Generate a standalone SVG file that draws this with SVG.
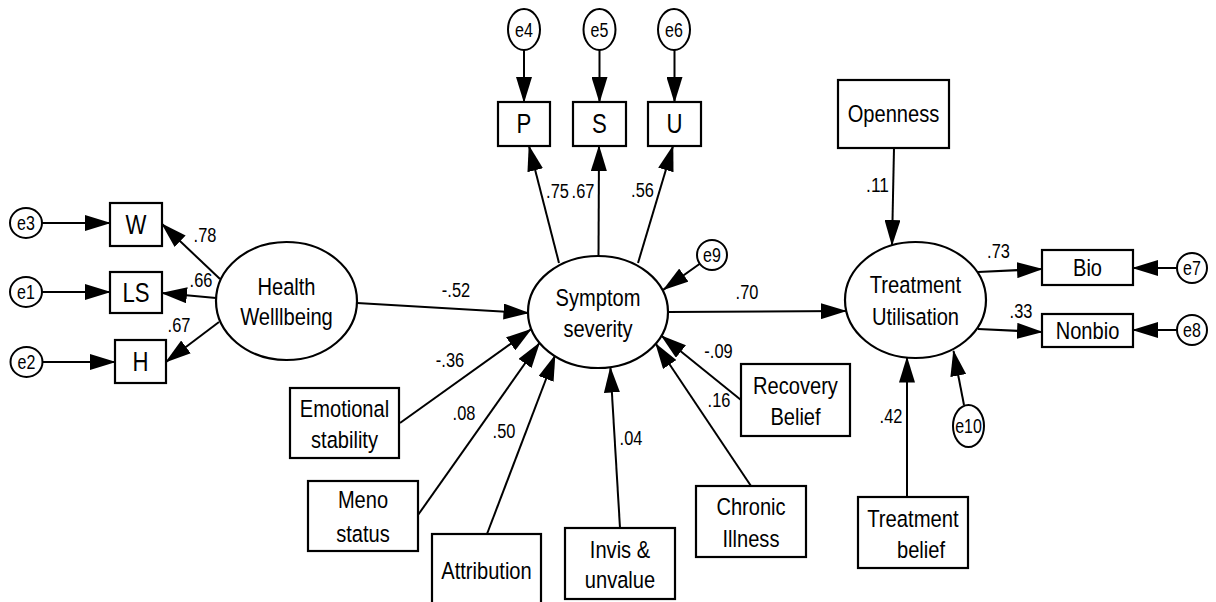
<svg xmlns="http://www.w3.org/2000/svg" width="1216" height="602" viewBox="0 0 1216 602">
  <defs>
    <marker id="ah" viewBox="0 0 26 16" refX="25" refY="8" markerWidth="26" markerHeight="16" markerUnits="userSpaceOnUse" orient="auto">
      <path d="M0,0 L26,8 L0,16 z" fill="#000"/>
    </marker>
  </defs>
  <style>
    text { font-family: "Liberation Sans", Arial, sans-serif; fill: #000; text-anchor: middle; }
    .box { fill: #fff; stroke: #000; stroke-width: 2.2; }
    .lat { fill: #fff; stroke: #000; stroke-width: 2.2; }
    .err { fill: #fff; stroke: #000; stroke-width: 2; }
    .lbl { font-size: 24.5px; }
    .big { font-size: 27px; }
    .el { font-size: 19.5px; }
    .w { font-size: 20px; }
    .edge { fill: none; stroke: #000; stroke-width: 2; marker-end: url(#ah); }
  </style>
  <rect width="1216" height="602" fill="#fff"/>

  <!-- paths; labels are condensed with textLength to a narrow face -->
  <g id="connectors">
    <!-- error terms to indicators -->
    <line class="edge" x1="42" y1="223" x2="110" y2="223"/>
    <line class="edge" x1="42" y1="292" x2="110" y2="292"/>
    <line class="edge" x1="43" y1="362" x2="115" y2="362"/>
    <line class="edge" x1="524" y1="50" x2="524" y2="102"/>
    <line class="edge" x1="599.5" y1="50" x2="599.5" y2="102"/>
    <line class="edge" x1="674.5" y1="50" x2="674.5" y2="102"/>
    <line class="edge" x1="1177" y1="268" x2="1133" y2="268"/>
    <line class="edge" x1="1177" y1="330" x2="1133" y2="330"/>
    <line class="edge" x1="699.8" y1="263.7" x2="663.5" y2="289.6"/>
    <line class="edge" x1="964" y1="405" x2="953.5" y2="351"/>
    <!-- Health Wellbeing loadings -->
    <line class="edge" x1="220" y1="279" x2="162" y2="224"/>
    <line class="edge" x1="216" y1="298" x2="162" y2="293"/>
    <line class="edge" x1="219" y1="322" x2="166" y2="362"/>
    <!-- Symptom severity loadings -->
    <line class="edge" x1="559" y1="263" x2="529" y2="146"/>
    <line class="edge" x1="598.5" y1="256" x2="599" y2="146"/>
    <line class="edge" x1="638" y1="263" x2="673" y2="146"/>
    <!-- structural paths into Symptom severity -->
    <line class="edge" x1="357" y1="303" x2="528.5" y2="313"/>
    <line class="edge" x1="400" y1="423" x2="531" y2="329.3"/>
    <line class="edge" x1="418" y1="515" x2="539.4" y2="343"/>
    <line class="edge" x1="487" y1="534" x2="555" y2="355.5"/>
    <line class="edge" x1="620" y1="528" x2="610.4" y2="367.5"/>
    <line class="edge" x1="751" y1="486" x2="655.8" y2="343.8"/>
    <line class="edge" x1="741" y1="400" x2="661.5" y2="335.8"/>
    <!-- paths into and out of Treatment Utilisation -->
    <line class="edge" x1="668" y1="312" x2="846" y2="311"/>
    <line class="edge" x1="894" y1="148" x2="892" y2="245"/>
    <line class="edge" x1="907" y1="497" x2="907" y2="357.5"/>
    <line class="edge" x1="978" y1="272" x2="1042" y2="269"/>
    <line class="edge" x1="978" y1="329" x2="1042" y2="332"/>
  </g>

  <!-- coefficients -->
  <g id="coefficients" class="w" lengthAdjust="spacingAndGlyphs">
    <text x="205" y="241.5" textLength="22.8" lengthAdjust="spacingAndGlyphs">.78</text>
    <text x="201" y="287" textLength="22.8" lengthAdjust="spacingAndGlyphs">.66</text>
    <text x="179" y="332" textLength="22.8" lengthAdjust="spacingAndGlyphs">.67</text>
    <text x="456" y="296.5" textLength="28.3" lengthAdjust="spacingAndGlyphs">-.52</text>
    <text x="557.5" y="198" textLength="22.8" lengthAdjust="spacingAndGlyphs">.75</text>
    <text x="583" y="198" textLength="22.8" lengthAdjust="spacingAndGlyphs">.67</text>
    <text x="642.5" y="197" textLength="22.8" lengthAdjust="spacingAndGlyphs">.56</text>
    <text x="747" y="299" textLength="22.8" lengthAdjust="spacingAndGlyphs">.70</text>
    <text x="450" y="366.5" textLength="28.3" lengthAdjust="spacingAndGlyphs">-.36</text>
    <text x="464" y="420" textLength="22.8" lengthAdjust="spacingAndGlyphs">.08</text>
    <text x="504" y="438" textLength="22.8" lengthAdjust="spacingAndGlyphs">.50</text>
    <text x="631" y="445" textLength="22.8" lengthAdjust="spacingAndGlyphs">.04</text>
    <text x="719" y="406.5" textLength="22.8" lengthAdjust="spacingAndGlyphs">.16</text>
    <text x="718.5" y="358" textLength="28.3" lengthAdjust="spacingAndGlyphs">-.09</text>
    <text x="877.5" y="192" textLength="22.8" lengthAdjust="spacingAndGlyphs">.11</text>
    <text x="998.5" y="258" textLength="22.8" lengthAdjust="spacingAndGlyphs">.73</text>
    <text x="1021" y="318" textLength="22.8" lengthAdjust="spacingAndGlyphs">.33</text>
    <text x="891" y="423" textLength="22.8" lengthAdjust="spacingAndGlyphs">.42</text>
  </g>

  <!-- error terms -->
  <g id="e3"><ellipse class="err" cx="26" cy="223" rx="16" ry="15"/><text class="el" x="26" y="230" textLength="17.8" lengthAdjust="spacingAndGlyphs">e3</text></g>
  <g id="e1"><ellipse class="err" cx="26" cy="292" rx="16" ry="15"/><text class="el" x="26" y="299" textLength="17.8" lengthAdjust="spacingAndGlyphs">e1</text></g>
  <g id="e2"><ellipse class="err" cx="26.5" cy="362" rx="16" ry="15"/><text class="el" x="26.5" y="369" textLength="17.8" lengthAdjust="spacingAndGlyphs">e2</text></g>
  <g id="e4"><ellipse class="err" cx="524" cy="29.5" rx="16" ry="20.5"/><text class="el" x="524" y="36.5" textLength="17.8" lengthAdjust="spacingAndGlyphs">e4</text></g>
  <g id="e5"><ellipse class="err" cx="599.5" cy="29.5" rx="16" ry="20.5"/><text class="el" x="599.5" y="36.5" textLength="17.8" lengthAdjust="spacingAndGlyphs">e5</text></g>
  <g id="e6"><ellipse class="err" cx="674" cy="29.5" rx="16" ry="20.5"/><text class="el" x="674" y="36.5" textLength="17.8" lengthAdjust="spacingAndGlyphs">e6</text></g>
  <g id="e9"><ellipse class="err" cx="712" cy="255" rx="15" ry="15"/><text class="el" x="712" y="262" textLength="17.8" lengthAdjust="spacingAndGlyphs">e9</text></g>
  <g id="e7"><ellipse class="err" cx="1192" cy="268" rx="15" ry="15"/><text class="el" x="1192" y="275" textLength="17.8" lengthAdjust="spacingAndGlyphs">e7</text></g>
  <g id="e8"><ellipse class="err" cx="1192" cy="330" rx="15" ry="15"/><text class="el" x="1192" y="337" textLength="17.8" lengthAdjust="spacingAndGlyphs">e8</text></g>
  <g id="e10"><ellipse class="err" cx="968.5" cy="426" rx="15.5" ry="21"/><text class="el" x="968.5" y="433" textLength="26.7" lengthAdjust="spacingAndGlyphs">e10</text></g>

  <!-- observed indicators -->
  <g id="W"><rect class="box" x="110" y="203" width="52" height="43"/><text class="big" x="136" y="234" textLength="20.9" lengthAdjust="spacingAndGlyphs">W</text></g>
  <g id="LS"><rect class="box" x="110" y="272" width="52" height="41"/><text class="big" x="136" y="302" textLength="27.1" lengthAdjust="spacingAndGlyphs">LS</text></g>
  <g id="H"><rect class="box" x="115" y="340" width="51" height="43"/><text class="big" x="140.5" y="371" textLength="16" lengthAdjust="spacingAndGlyphs">H</text></g>
  <g id="P"><rect class="box" x="498" y="102" width="52" height="44"/><text class="big" x="524" y="133" textLength="14.8" lengthAdjust="spacingAndGlyphs">P</text></g>
  <g id="S"><rect class="box" x="573" y="102" width="53" height="44"/><text class="big" x="599.5" y="133" textLength="14.8" lengthAdjust="spacingAndGlyphs">S</text></g>
  <g id="U"><rect class="box" x="648" y="102" width="53" height="44"/><text class="big" x="674.5" y="133" textLength="16" lengthAdjust="spacingAndGlyphs">U</text></g>
  <g id="Bio"><rect class="box" x="1042" y="250" width="91" height="35"/><text class="lbl" x="1087.5" y="276" textLength="29" lengthAdjust="spacingAndGlyphs">Bio</text></g>
  <g id="Nonbio"><rect class="box" x="1042" y="314" width="91" height="33"/><text class="lbl" x="1087.5" y="339" textLength="63.6" lengthAdjust="spacingAndGlyphs">Nonbio</text></g>

  <!-- latent constructs -->
  <g id="health-wellbeing"><ellipse class="lat" cx="286.5" cy="301" rx="70.5" ry="59"/><text class="lbl" x="286.5" y="295" textLength="58.1" lengthAdjust="spacingAndGlyphs">Health</text><text class="lbl" x="286.5" y="325" textLength="92.7" lengthAdjust="spacingAndGlyphs">Welllbeing</text></g>
  <g id="symptom-severity"><ellipse class="lat" cx="598" cy="312" rx="70" ry="56"/><text class="lbl" x="598" y="306" textLength="84.8" lengthAdjust="spacingAndGlyphs">Symptom</text><text class="lbl" x="598" y="337" textLength="69.2" lengthAdjust="spacingAndGlyphs">severity</text></g>
  <g id="treatment-utilisation"><ellipse class="lat" cx="915.5" cy="300" rx="70.5" ry="58"/><text class="lbl" x="915.5" y="293" textLength="91.5" lengthAdjust="spacingAndGlyphs">Treatment</text><text class="lbl" x="915.5" y="325" textLength="87.1" lengthAdjust="spacingAndGlyphs">Utilisation</text></g>

  <!-- predictors -->
  <g id="openness"><rect class="box" x="838" y="80" width="111" height="68"/><text class="lbl" x="893.5" y="122" textLength="91.6" lengthAdjust="spacingAndGlyphs">Openness</text></g>
  <g id="emotional-stability"><rect class="box" x="290" y="388" width="109" height="70"/><text class="lbl" x="344.5" y="417" textLength="89.3" lengthAdjust="spacingAndGlyphs">Emotional</text><text class="lbl" x="344.5" y="448" textLength="67" lengthAdjust="spacingAndGlyphs">stability</text></g>
  <g id="meno-status"><rect class="box" x="308" y="481" width="110" height="70"/><text class="lbl" x="363" y="508" textLength="50.2" lengthAdjust="spacingAndGlyphs">Meno</text><text class="lbl" x="363" y="542" textLength="53.6" lengthAdjust="spacingAndGlyphs">status</text></g>
  <g id="attribution"><rect class="box" x="432" y="534" width="109" height="80"/><text class="lbl" x="486.5" y="579" textLength="90.4" lengthAdjust="spacingAndGlyphs">Attribution</text></g>
  <g id="invis-unvalue"><rect class="box" x="565" y="528" width="110" height="71"/><text class="lbl" x="620" y="558" textLength="60.3" lengthAdjust="spacingAndGlyphs">Invis &amp;</text><text class="lbl" x="620" y="588" textLength="70.4" lengthAdjust="spacingAndGlyphs">unvalue</text></g>
  <g id="chronic-illness"><rect class="box" x="696" y="486" width="110" height="71"/><text class="lbl" x="751" y="515" textLength="69.2" lengthAdjust="spacingAndGlyphs">Chronic</text><text class="lbl" x="751" y="547" textLength="56.9" lengthAdjust="spacingAndGlyphs">Illness</text></g>
  <g id="recovery-belief"><rect class="box" x="741" y="364" width="109" height="72"/><text class="lbl" x="795.5" y="394" textLength="84.8" lengthAdjust="spacingAndGlyphs">Recovery</text><text class="lbl" x="795.5" y="425" textLength="50.2" lengthAdjust="spacingAndGlyphs">Belief</text></g>
  <g id="treatment-belief"><rect class="box" x="858" y="497" width="110" height="71"/><text class="lbl" x="913" y="527" textLength="91.5" lengthAdjust="spacingAndGlyphs">Treatment</text><text class="lbl" x="921" y="558" textLength="48" lengthAdjust="spacingAndGlyphs">belief</text></g>
</svg>
